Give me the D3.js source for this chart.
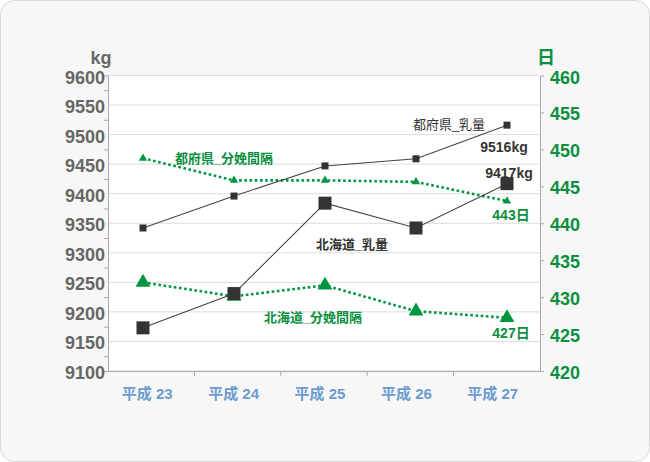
<!DOCTYPE html>
<html><head><meta charset="utf-8">
<script src="https://cdn.jsdelivr.net/npm/d3@7"></script>
<style>body{margin:0;background:#fff;}svg{display:block;}
text{font-family:"Liberation Sans",Arial,"Noto Sans CJK JP",sans-serif;}</style>
</head><body><svg id="c" width="650" height="462"></svg>
<script>
const categories = ["平成 23","平成 24","平成 25","平成 26","平成 27"];
const hokkaidoMilk = [9173, 9231, 9384, 9342, 9417];
const tofukenMilk = [9342, 9396, 9447, 9459, 9516];
const tofukenInterval = [448.8, 445.8, 445.8, 445.6, 443];
const hokkaidoInterval = [432, 430.1, 431.6, 428.1, 427.2];
const leftTicks = [9100,9150,9200,9250,9300,9350,9400,9450,9500,9550,9600];
const rightTicks = [420,425,430,435,440,445,450,455,460];

const svg = d3.select("#c");
const L = 108, R = 540, T = 75.5, B = 371;
const green = "#00963f", greenText = "#0a8f3f", dark = "#333", gray = "#666";

svg.append("rect").attr("x",0.5).attr("y",0.5).attr("width",649).attr("height",461)
  .attr("rx",14).attr("fill","#f7f7f7").attr("stroke","#d9d9d9");
svg.append("rect").attr("x",L).attr("y",T).attr("width",R-L).attr("height",B-T).attr("fill","#fff");

const yL = d3.scaleLinear().domain([9100,9600]).range([B,T]);
const yR = d3.scaleLinear().domain([420,460]).range([B,T]);
const xb = d3.scaleBand().domain(categories).range([L,R]);
const xp = d3.scalePoint().domain(categories).range([143,507]);

// gridlines
svg.append("g").selectAll("line").data(leftTicks).join("line")
  .attr("x1",L).attr("x2",R).attr("y1",d=>yL(d)).attr("y2",d=>yL(d))
  .attr("stroke","#dcdcdc").attr("stroke-width",1);

// left axis
const gl = svg.append("g").attr("transform",`translate(${L},0)`)
  .call(d3.axisLeft(yL).tickValues(leftTicks.slice(0,-1).map(v=>v+25)).tickSize(4).tickFormat(""));
gl.select(".domain").attr("stroke","#aaa");
gl.selectAll(".tick line").attr("stroke","#aaa");
svg.append("g").selectAll("text").data(leftTicks).join("text")
  .attr("x",105).attr("y",d=>yL(d)+2).attr("text-anchor","end").attr("dominant-baseline","central")
  .attr("font-size",18).attr("font-weight","bold").attr("fill",gray).text(d=>d);

// right axis
const gr = svg.append("g").attr("transform",`translate(${R},0)`)
  .call(d3.axisRight(yR).tickValues(rightTicks.slice(1,-1)).tickSize(4).tickFormat(""));
gr.select(".domain").attr("stroke","#aaa");
gr.selectAll(".tick line").attr("stroke","#aaa");
svg.append("g").selectAll("text").data(rightTicks).join("text")
  .attr("x",550).attr("y",d=>yR(d)+2).attr("text-anchor","start").attr("dominant-baseline","central")
  .attr("font-size",18).attr("font-weight","bold").attr("fill",greenText).text(d=>d);

// bottom axis
const gb = svg.append("g").attr("transform",`translate(0,${B})`)
  .call(d3.axisBottom(xb).tickSize(0).tickFormat(""));
gb.select(".domain").attr("stroke","#aaa");
svg.append("g").selectAll("line").data(categories.slice(1)).join("line")
  .attr("x1",d=>xb(d)).attr("x2",d=>xb(d)).attr("y1",B).attr("y2",B+5).attr("stroke","#aaa");
svg.append("g").selectAll("text").data(categories).join("text")
  .attr("x",d=>xb(d)+xb.bandwidth()/2-4).attr("y",399).attr("text-anchor","middle")
  .attr("font-size",15).attr("font-weight","bold").attr("fill","#6b9bd0").text(d=>d);

// unit labels
svg.append("text").attr("x",101).attr("y",64).attr("text-anchor","middle").attr("font-size",18)
  .attr("font-weight","bold").attr("fill",gray).text("kg");
svg.append("text").attr("x",546).attr("y",64).attr("text-anchor","middle").attr("font-size",18)
  .attr("font-weight","bold").attr("fill",greenText).text("日");

// dotted interval lines
function dotted(vals){
  svg.append("path").datum(vals)
    .attr("d", d3.line().x((d,i)=>xp(categories[i])).y(d=>yR(d)))
    .attr("fill","none").attr("stroke",green).attr("stroke-width",2.6).attr("stroke-dasharray","2.6,2.6");
}
dotted(tofukenInterval);
dotted(hokkaidoInterval);

// milk lines
function solid(vals){
  svg.append("path").datum(vals)
    .attr("d", d3.line().x((d,i)=>xp(categories[i])).y(d=>yL(d)))
    .attr("fill","none").attr("stroke","#444").attr("stroke-width",1.1);
}
solid(tofukenMilk);
solid(hokkaidoMilk);

// markers
const tri = (s)=>d3.symbol().type(d3.symbolTriangle).size(s);
svg.append("g").selectAll("path").data(tofukenInterval).join("path")
  .attr("d",tri(30)).attr("fill",green)
  .attr("transform",(d,i)=>`translate(${xp(categories[i])},${yR(d)})`);
svg.append("g").selectAll("path").data(hokkaidoInterval).join("path")
  .attr("d",tri(95)).attr("fill",green)
  .attr("transform",(d,i)=>`translate(${xp(categories[i])},${yR(d)})`);
svg.append("g").selectAll("rect").data(tofukenMilk).join("rect")
  .attr("x",(d,i)=>xp(categories[i])-3.5).attr("y",d=>yL(d)-3.5).attr("width",7).attr("height",7).attr("fill",dark);
svg.append("g").selectAll("rect").data(hokkaidoMilk).join("rect")
  .attr("x",(d,i)=>xp(categories[i])-6.5).attr("y",d=>yL(d)-6.5).attr("width",13).attr("height",13).attr("fill",dark);

// annotations
const last = categories[4];
function lbl(x,y,t,fill,bold,size,anchor){
  svg.append("text").attr("x",x).attr("y",y).attr("text-anchor",anchor||"middle")
    .attr("font-size",size||13).attr("font-weight",bold?"bold":"normal").attr("fill",fill).text(t);
}
lbl(xp(last)-3, 152, tofukenMilk[4]+"kg", dark, true, 14);
lbl(xp(last)+2, 178, hokkaidoMilk[4]+"kg", dark, true, 14);
lbl(xp(last)+4, 220, tofukenInterval[4]+"日", greenText, true, 14);
lbl(xp(last)+4, 338, Math.round(hokkaidoInterval[4])+"日", greenText, true, 14);
lbl(449, 129, "都府県_乳量", dark, false, 13);
lbl(352, 249, "北海道_乳量", dark, true, 13);
lbl(224, 163, "都府県_分娩間隔", greenText, true, 13);
lbl(313, 322, "北海道_分娩間隔", greenText, true, 13);
</script></body></html>
